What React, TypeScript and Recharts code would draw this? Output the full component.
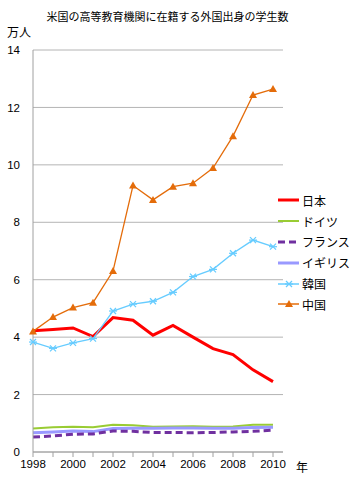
import React from 'react';
import { LineChart, Line, XAxis, YAxis, CartesianGrid } from 'recharts';

const years = [1998, 1999, 2000, 2001, 2002, 2003, 2004, 2005, 2006, 2007, 2008, 2009, 2010];
const japan = [4.22, 4.27, 4.32, 4.02, 4.68, 4.59, 4.07, 4.41, 4.0, 3.6, 3.39, 2.86, 2.45];
const germany = [0.82, 0.86, 0.88, 0.86, 0.95, 0.93, 0.88, 0.89, 0.9, 0.88, 0.89, 0.95, 0.95];
const france = [0.52, 0.56, 0.62, 0.63, 0.73, 0.72, 0.68, 0.68, 0.67, 0.68, 0.7, 0.72, 0.76];
const uk = [0.67, 0.7, 0.73, 0.71, 0.82, 0.83, 0.83, 0.84, 0.84, 0.83, 0.83, 0.85, 0.86];
const korea = [3.83, 3.61, 3.8, 3.95, 4.91, 5.15, 5.25, 5.56, 6.11, 6.36, 6.92, 7.38, 7.15];
const china = [4.2, 4.7, 5.03, 5.2, 6.3, 9.28, 8.78, 9.24, 9.36, 9.89, 11.0, 12.43, 12.64];
const yTicks = [0, 2, 4, 6, 8, 10, 12, 14];

const data = years.map((y, i) => ({
  year: y,
  japan: japan[i],
  germany: germany[i],
  france: france[i],
  uk: uk[i],
  korea: korea[i],
  china: china[i],
}));

const JP = '"Noto Sans CJK JP", sans-serif';
const NUM = '"Liberation Sans", Arial, sans-serif';

const series = [
  { key: 'japan', name: '日本', color: '#ff0000', width: 3 },
  { key: 'germany', name: 'ドイツ', color: '#99cc33', width: 2 },
  { key: 'france', name: 'フランス', color: '#7030a0', width: 3, dash: '7 4' },
  { key: 'uk', name: 'イギリス', color: '#9999ff', width: 3 },
  { key: 'korea', name: '韓国', color: '#66ccff', width: 1.5, marker: 'x' },
  { key: 'china', name: '中国', color: '#e46c0a', width: 1.5, marker: 'tri' },
];

const Tri = (props: any) => {
  const { cx, cy } = props;
  if (cx == null || cy == null) return null;
  return <path d={`M${cx},${cy - 4} L${cx + 4},${cy + 3} L${cx - 4},${cy + 3} Z`} fill="#e46c0a" />;
};

const Cross = (props: any) => {
  const { cx, cy } = props;
  if (cx == null || cy == null) return null;
  return (
    <g stroke="#66ccff" strokeWidth={1.2}>
      <line x1={cx - 3} y1={cy - 3} x2={cx + 3} y2={cy + 3} />
      <line x1={cx - 3} y1={cy + 3} x2={cx + 3} y2={cy - 3} />
      <line x1={cx - 4} y1={cy} x2={cx + 4} y2={cy} />
    </g>
  );
};

const legendIcon = (s: any) => (
  <svg width={22} height={10} style={{ display: 'block' }}>
    <line x1={0} y1={5} x2={21} y2={5} stroke={s.color} strokeWidth={s.width} strokeDasharray={s.dash} />
    {s.marker === 'tri' && <Tri cx={11} cy={5} />}
    {s.marker === 'x' && <Cross cx={11} cy={5} />}
  </svg>
);

export default function App() {
  return (
    <div style={{ position: 'absolute', left: 0, top: 0, width: 350, height: 483, background: '#fff' }}>
      <div style={{ position: 'absolute', left: 0, width: 335, top: 8, textAlign: 'center', fontFamily: JP, fontSize: 11, lineHeight: '16px' }}>
        米国の高等教育機関に在籍する外国出身の学生数
      </div>
      <div style={{ position: 'absolute', left: 7, top: 24, fontFamily: JP, fontSize: 12, lineHeight: '16px' }}>万人</div>
      <div style={{ position: 'absolute', left: 296, top: 459, fontFamily: JP, fontSize: 12, lineHeight: '16px' }}>年</div>
      <LineChart width={350} height={483} data={data} margin={{ top: 50, right: 67, bottom: 0, left: 0 }}>
        <CartesianGrid vertical={false} stroke="#b4b4b4" />
        <XAxis
          dataKey="year"
          type="number"
          domain={[1998, 2010.5]}
          ticks={years}
          interval={0}
          height={31}
          tickSize={5}
          tickMargin={3}
          stroke="#a0a0a0"
          tick={{ fill: '#000', fontSize: 11.5, fontFamily: NUM }}
          tickFormatter={(v: number) => (v % 2 === 0 ? String(v) : '')}
        />
        <YAxis
          domain={[0, 14]}
          ticks={yTicks}
          width={33}
          tickLine={false}
          tickSize={5}
          tickMargin={8}
          stroke="#a0a0a0"
          tick={{ fill: '#000', fontSize: 11.5, fontFamily: NUM }}
        />
        <Line dataKey="germany" stroke="#99cc33" strokeWidth={2} dot={false} isAnimationActive={false} />
        <Line dataKey="uk" stroke="#9999ff" strokeWidth={3} dot={false} isAnimationActive={false} />
        <Line dataKey="france" stroke="#7030a0" strokeWidth={3} strokeDasharray="7 4" dot={false} isAnimationActive={false} />
        <Line dataKey="japan" stroke="#ff0000" strokeWidth={3} dot={false} isAnimationActive={false} />
        <Line dataKey="korea" stroke="#66ccff" strokeWidth={1.3} dot={<Cross />} isAnimationActive={false} />
        <Line dataKey="china" stroke="#e46c0a" strokeWidth={1.3} dot={<Tri />} isAnimationActive={false} />
      </LineChart>
      <div style={{ position: 'absolute', left: 278, top: 190 }}>
        {series.map((s) => (
          <div key={s.key} style={{ display: 'flex', alignItems: 'center', height: 20.8, fontFamily: JP, fontSize: 12 }}>
            {legendIcon(s)}
            <span style={{ marginLeft: 2 }}>{s.name}</span>
          </div>
        ))}
      </div>
    </div>
  );
}
